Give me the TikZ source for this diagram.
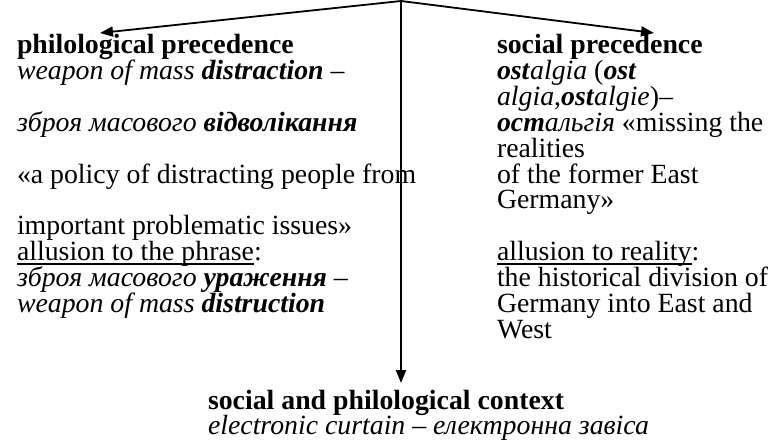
\documentclass[tikz,border=0pt]{standalone}
\usepackage{fontspec}
\setmainfont{Liberation Serif}[
  BoldFont={Liberation Serif Bold},
  ItalicFont={Liberation Serif Italic},
  BoldItalicFont={Liberation Serif Bold Italic}]
\usetikzlibrary{arrows.meta}
\tikzset{
  txt/.style={anchor=base west, inner sep=0pt, outer sep=0pt, font=\fontsize{27.8pt}{26pt}\selectfont},
  conn/.style={line width=1.8pt, -{Triangle[length=13pt,width=10pt]}}
}
\newcommand{\bi}[1]{\textbf{\textit{#1}}}
\newcommand{\myul}[1]{\setbox0\hbox{#1}\rlap{\vrule height -2.4pt depth 3.8pt width \wd0}\box0}
\begin{document}
\begin{tikzpicture}[x=1pt,y=1pt]
\useasboundingbox (0,0) rectangle (775,-441);
% left column
\node[txt] (l1)  at (17,-53.5)  {\textbf{philological precedence}};
\node[txt] (l2)  at (17,-79.4)  {\textit{weapon of mass \textbf{distraction}} –};
\node[txt] (l4)  at (17,-131.2) {\textit{зброя масового \textbf{відволікання}}};
\node[txt] (l6)  at (17,-183.0) {«a policy of distracting people from};
\node[txt] (l8)  at (17,-234.8) {important problematic issues»};
\node[txt] (l9)  at (17,-260.7) {\myul{allusion to the phrase}:};
\node[txt] (l10) at (17,-286.6) {\textit{зброя масового \textbf{ураження}} –};
\node[txt] (l11) at (17,-312.5) {\textit{weapon of mass \textbf{distruction}}};
% right column
\node[txt] (r1)  at (497,-53.5)  {\textbf{social precedence}};
\node[txt] (r2)  at (497,-79.4)  {\bi{ost}\textit{algia} (\bi{ost}};
\node[txt] (r3)  at (497,-105.3) {\textit{algia},\bi{ost}\textit{algie})–};
\node[txt] (r4)  at (497,-131.2) {\bi{ост}\textit{альгія} «missing the};
\node[txt] (r5)  at (497,-157.1) {realities};
\node[txt] (r6)  at (497,-183.0) {of the former East};
\node[txt] (r7)  at (497,-208.9) {Germany»};
\node[txt] (r9)  at (497,-260.7) {\myul{allusion to reality}:};
\node[txt] (r10) at (497,-286.6) {the historical division of};
\node[txt] (r11) at (497,-312.5) {Germany into East and};
\node[txt] (r12) at (497,-338.4) {West};
% centre
\node[txt] (c1) at (208,-409) {\textbf{social and philological context}};
\node[txt] (c2) at (208,-434.5) {\textit{electronic curtain – електронна завіса}};
% connectors
\coordinate (top) at (401,-1);
\coordinate (ltip) at (100,-33);
\coordinate (rtip) at (654,-33);
\coordinate (btip) at (401,-383);
\draw[conn] (top) -- (ltip);
\draw[conn] (top) -- (rtip);
\draw[conn, line width=2.2pt] (top) -- (btip);
\end{tikzpicture}
\end{document}
